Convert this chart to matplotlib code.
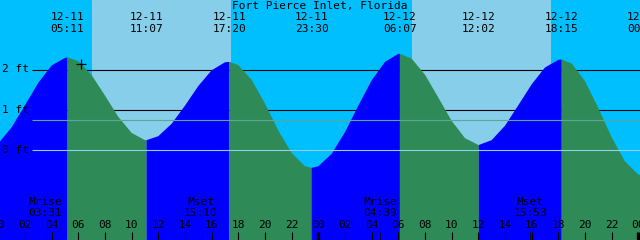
import numpy as np
import matplotlib
matplotlib.use("Agg")
import matplotlib.pyplot as plt
import matplotlib.transforms as mtransforms

# hours counted from 12-11 00:00
station = "Fort Pierce Inlet, Florida"

hours = list(range(0, 49))
hourly_ft = [0.16, 0.56, 1.11, 1.67, 2.10, 2.29,
             2.21, 1.86, 1.35, 0.82, 0.42, 0.24,
             0.34, 0.65, 1.10, 1.59, 1.98, 2.18,
             2.11, 1.74, 1.15, 0.48, -0.08, -0.41,
             -0.41, -0.10, 0.44, 1.10, 1.73, 2.19,
             2.39, 2.27, 1.87, 1.30, 0.72, 0.29,
             0.12, 0.24, 0.60, 1.11, 1.63, 2.05,
             2.24, 2.15, 1.71, 1.04, 0.31, -0.29,
             -0.62]

# high / low tide events
event_t = [5.183, 11.117, 17.333, 23.5, 30.117, 36.033, 42.25, 48.4]
event_ft = [2.30, 0.24, 2.19, -0.45, 2.39, 0.12, 2.25, -0.65]
event_date = ["12-11", "12-11", "12-11", "12-11", "12-12", "12-12", "12-12", "12-13"]
event_clock = ["05:11", "11:07", "17:20", "23:30", "06:07", "12:02", "18:15", "00:24"]

# daylight periods
sunrise = [7.02, 31.03]
sunset = [17.45, 41.45]

# moon events
moon_t = [3.517, 15.167, 28.65, 39.883]
moon_name = ["Mrise", "Mset", "Mrise", "Mset"]
moon_clock = ["03:31", "15:10", "04:39", "15:53"]

now_t, now_ft = 6.2, 2.14
mean_ft = 0.73

night_c, day_c = "#00BFFF", "#87CEEB"
flood_c, ebb_c = "#0000FF", "#2E8B57"

plt.rcParams['font.family'] = ['DejaVu Sans Mono']
fs = 8

fig = plt.figure(figsize=(6.4, 2.4), dpi=100)
ax = fig.add_axes([0, 0, 1, 1])
x0, x1 = 0.125, 48.125
ax.set_xlim(x0, x1)
ax.set_ylim((149.8 - 240) / 40.15, 149.8 / 40.15)
ax.axis('off')
ax.set_facecolor(night_c)
ax.axvspan(x0, x1, color=night_c, zorder=0)
for a, b in zip(sunrise, sunset):
    ax.axvspan(a, b, color=day_c, lw=0, zorder=0.5)

# datum lines behind the curve
lx = 2.525
for lv in [1, 2]:
    ax.hlines(lv, lx, x1, color='black', lw=0.8, zorder=1)

# tide curve
pts = sorted(zip(hours + event_t, hourly_ft + event_ft))
t_all = np.array([p[0] for p in pts])
y_all = np.array([p[1] for p in pts])
bounds = [0] + event_t
for i in range(len(bounds) - 1):
    a, b = bounds[i], bounds[i + 1]
    m = (t_all >= a - 1e-6) & (t_all <= b + 1e-6)
    rising = y_all[m][-1] > y_all[m][0]
    ax.fill_between(t_all[m], -5, y_all[m], color=flood_c if rising else ebb_c,
                    lw=0, zorder=2)

# lines drawn over the curve
ax.hlines(0, lx, x1, color="#8FD0EE", lw=0.8, zorder=3)
ax.hlines(mean_ft, lx, x1, color="#5FA596", lw=0.8, zorder=3)

for lv in [2, 1, 0]:
    ax.text(0.0025, lv, f"{lv} ft", transform=mtransforms.blended_transform_factory(ax.transAxes, ax.transData),
            ha='left', va='center', fontsize=fs, zorder=4)

ax.plot([now_t], [now_ft], marker='+', color='black', ms=7, mew=0.9, zorder=5)

tr = mtransforms.blended_transform_factory(ax.transData, ax.transAxes)
ax.text((x0 + x1) / 2, 1 - 6 / 240, station, transform=tr, ha='center', va='center', fontsize=fs)
for t, d, c in zip(event_t, event_date, event_clock):
    ax.text(t, 1 - 17 / 240, d, transform=tr, ha='center', va='center', fontsize=fs)
    ax.text(t, 1 - 29.5 / 240, c, transform=tr, ha='center', va='center', fontsize=fs)

for t, n, c in zip(moon_t, moon_name, moon_clock):
    ax.text(t, 1 - 202 / 240, n, transform=tr, ha='center', va='center', fontsize=fs)
    ax.text(t, 1 - 213.5 / 240, c, transform=tr, ha='center', va='center', fontsize=fs)
    ax.vlines(t, 0, 8 / 240, transform=tr, color='black', lw=0.6, zorder=4)

for h in range(0, 49, 2):
    ax.text(h, 1 - 225 / 240, f"{h % 24:02d}", transform=tr, ha='center', va='center', fontsize=fs)
    if h > 0:
        ax.vlines(h, 0, 8 / 240, transform=tr, color='black',
                  lw=2.4 if h % 24 == 0 else 0.8, zorder=4)

fig.savefig("out.png", dpi=100)
